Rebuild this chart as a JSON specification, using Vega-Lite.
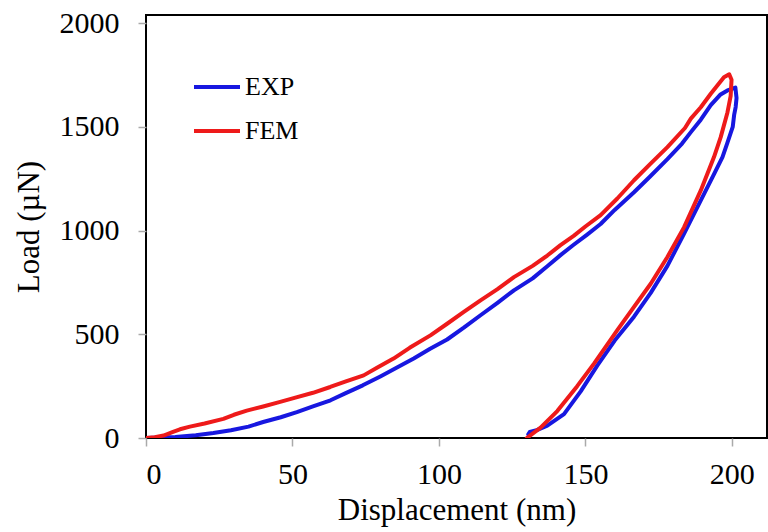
{
  "$schema": "https://vega.github.io/schema/vega-lite/v6.json",
  "width": 621,
  "height": 423,
  "autosize": {"type": "none"},
  "padding": {"left": 146, "top": 15, "right": 1, "bottom": 94},
  "background": "white",
  "config": {
    "view": {"stroke": "black", "strokeWidth": 2},
    "axis": {
      "domain": false, "grid": false,
      "tickColor": "#aaaaaa", "tickSize": 8, "tickWidth": 1.5,
      "labelFont": "Liberation Serif", "labelFontSize": 30, "labelColor": "black",
      "titleFont": "Liberation Serif", "titleFontSize": 31, "titleFontWeight": "normal", "titleColor": "black"
    }
  },
  "data": {"values": [
    {"s":"EXP","i":1,"x":0,"y":0},{"s":"EXP","i":2,"x":5,"y":2},{"s":"EXP","i":3,"x":10,"y":5},{"s":"EXP","i":4,"x":17,"y":13},{"s":"EXP","i":5,"x":23,"y":24},{"s":"EXP","i":6,"x":29,"y":37},{"s":"EXP","i":7,"x":35,"y":55},{"s":"EXP","i":8,"x":40,"y":77},{"s":"EXP","i":9,"x":46,"y":100},{"s":"EXP","i":10,"x":51.5,"y":125},{"s":"EXP","i":11,"x":57,"y":152},{"s":"EXP","i":12,"x":63,"y":182},{"s":"EXP","i":13,"x":68,"y":215},{"s":"EXP","i":14,"x":74,"y":254},{"s":"EXP","i":15,"x":80,"y":297},{"s":"EXP","i":16,"x":86,"y":342},{"s":"EXP","i":17,"x":91.4,"y":383},{"s":"EXP","i":18,"x":97,"y":430},{"s":"EXP","i":19,"x":102.8,"y":475},{"s":"EXP","i":20,"x":108.5,"y":532},{"s":"EXP","i":21,"x":114.2,"y":592},{"s":"EXP","i":22,"x":120,"y":652},{"s":"EXP","i":23,"x":125.6,"y":712},{"s":"EXP","i":24,"x":132,"y":770},{"s":"EXP","i":25,"x":137,"y":828},{"s":"EXP","i":26,"x":141.5,"y":882},{"s":"EXP","i":27,"x":146,"y":932},{"s":"EXP","i":28,"x":150.5,"y":980},{"s":"EXP","i":29,"x":155.2,"y":1032},{"s":"EXP","i":30,"x":160,"y":1100},{"s":"EXP","i":31,"x":166.6,"y":1185},{"s":"EXP","i":32,"x":172,"y":1260},{"s":"EXP","i":33,"x":178,"y":1345},{"s":"EXP","i":34,"x":183,"y":1420},{"s":"EXP","i":35,"x":186,"y":1475},{"s":"EXP","i":36,"x":189.4,"y":1535},{"s":"EXP","i":37,"x":192.8,"y":1605},{"s":"EXP","i":38,"x":196,"y":1655},{"s":"EXP","i":39,"x":198.5,"y":1676},{"s":"EXP","i":40,"x":200.5,"y":1686},{"s":"EXP","i":41,"x":201.2,"y":1690},{"s":"EXP","i":42,"x":201.6,"y":1640},{"s":"EXP","i":43,"x":201.3,"y":1596},{"s":"EXP","i":44,"x":200.8,"y":1560},{"s":"EXP","i":45,"x":200.3,"y":1500},{"s":"EXP","i":46,"x":198.5,"y":1425},{"s":"EXP","i":47,"x":196.8,"y":1355},{"s":"EXP","i":48,"x":194,"y":1275},{"s":"EXP","i":49,"x":189.4,"y":1146},{"s":"EXP","i":50,"x":183.7,"y":986},{"s":"EXP","i":51,"x":178,"y":830},{"s":"EXP","i":52,"x":172.3,"y":700},{"s":"EXP","i":53,"x":166.6,"y":585},{"s":"EXP","i":54,"x":160,"y":470},{"s":"EXP","i":55,"x":154.1,"y":350},{"s":"EXP","i":56,"x":148.4,"y":225},{"s":"EXP","i":57,"x":142.7,"y":115},{"s":"EXP","i":58,"x":137,"y":60},{"s":"EXP","i":59,"x":133,"y":36},{"s":"EXP","i":60,"x":131,"y":29},{"s":"EXP","i":61,"x":130.5,"y":18},
    {"s":"FEM","i":1,"x":0,"y":0},{"s":"FEM","i":2,"x":3,"y":4},{"s":"FEM","i":3,"x":6,"y":12},{"s":"FEM","i":4,"x":9,"y":28},{"s":"FEM","i":5,"x":11.6,"y":42},{"s":"FEM","i":6,"x":15,"y":55},{"s":"FEM","i":7,"x":20,"y":70},{"s":"FEM","i":8,"x":26.4,"y":92},{"s":"FEM","i":9,"x":30,"y":112},{"s":"FEM","i":10,"x":34.4,"y":132},{"s":"FEM","i":11,"x":40,"y":152},{"s":"FEM","i":12,"x":45.8,"y":174},{"s":"FEM","i":13,"x":51,"y":195},{"s":"FEM","i":14,"x":57,"y":218},{"s":"FEM","i":15,"x":62.9,"y":246},{"s":"FEM","i":16,"x":68,"y":272},{"s":"FEM","i":17,"x":74.3,"y":302},{"s":"FEM","i":18,"x":79,"y":340},{"s":"FEM","i":19,"x":84.5,"y":383},{"s":"FEM","i":20,"x":90,"y":435},{"s":"FEM","i":21,"x":97.1,"y":495},{"s":"FEM","i":22,"x":102.8,"y":551},{"s":"FEM","i":23,"x":108.5,"y":608},{"s":"FEM","i":24,"x":114.2,"y":664},{"s":"FEM","i":25,"x":120,"y":718},{"s":"FEM","i":26,"x":125.6,"y":776},{"s":"FEM","i":27,"x":132,"y":830},{"s":"FEM","i":28,"x":137,"y":880},{"s":"FEM","i":29,"x":141.5,"y":930},{"s":"FEM","i":30,"x":146,"y":975},{"s":"FEM","i":31,"x":150,"y":1020},{"s":"FEM","i":32,"x":155.2,"y":1075},{"s":"FEM","i":33,"x":160.9,"y":1155},{"s":"FEM","i":34,"x":166.6,"y":1243},{"s":"FEM","i":35,"x":172,"y":1320},{"s":"FEM","i":36,"x":178,"y":1403},{"s":"FEM","i":37,"x":184,"y":1495},{"s":"FEM","i":38,"x":186,"y":1540},{"s":"FEM","i":39,"x":189.4,"y":1595},{"s":"FEM","i":40,"x":192.8,"y":1660},{"s":"FEM","i":41,"x":197.3,"y":1740},{"s":"FEM","i":42,"x":199.1,"y":1754},{"s":"FEM","i":43,"x":199.9,"y":1728},{"s":"FEM","i":44,"x":199.6,"y":1650},{"s":"FEM","i":45,"x":198.5,"y":1570},{"s":"FEM","i":46,"x":196.2,"y":1451},{"s":"FEM","i":47,"x":193.9,"y":1355},{"s":"FEM","i":48,"x":189.4,"y":1194},{"s":"FEM","i":49,"x":183.7,"y":1017},{"s":"FEM","i":50,"x":178,"y":873},{"s":"FEM","i":51,"x":172.3,"y":744},{"s":"FEM","i":52,"x":166.6,"y":632},{"s":"FEM","i":53,"x":160.9,"y":520},{"s":"FEM","i":54,"x":153,"y":360},{"s":"FEM","i":55,"x":147.2,"y":250},{"s":"FEM","i":56,"x":140.4,"y":130},{"s":"FEM","i":57,"x":134.7,"y":50},{"s":"FEM","i":58,"x":130,"y":0}
  ]},
  "mark": {"type": "line", "strokeWidth": 4, "strokeCap": "round", "strokeJoin": "round", "clip": true},
  "encoding": {
    "x": {"field": "x", "type": "quantitative",
      "scale": {"domain": [0, 212], "nice": false, "zero": false},
      "axis": {"values": [0, 50, 100, 150, 200], "format": "d", "title": "Displacement (nm)", "labelPadding": 13, "titlePadding": 6}},
    "y": {"field": "y", "type": "quantitative",
      "scale": {"domain": [0, 2040], "nice": false},
      "axis": {"values": [0, 500, 1000, 1500, 2000], "format": "d", "title": "Load (µN)", "labelPadding": 19, "titlePadding": 14}},
    "order": {"field": "i", "type": "quantitative"},
    "color": {"field": "s", "type": "nominal",
      "scale": {"domain": ["EXP", "FEM"], "range": ["#1717e0", "#ee1a1a"]},
      "legend": {"title": null, "orient": "none", "legendX": 46, "legendY": 47, "direction": "vertical",
        "symbolType": "stroke", "symbolSize": 2116, "symbolStrokeWidth": 4,
        "labelFont": "Liberation Serif", "labelFontSize": 26, "labelColor": "black", "labelOffset": 3,
        "rowPadding": 6, "padding": 0}}
  }
}
